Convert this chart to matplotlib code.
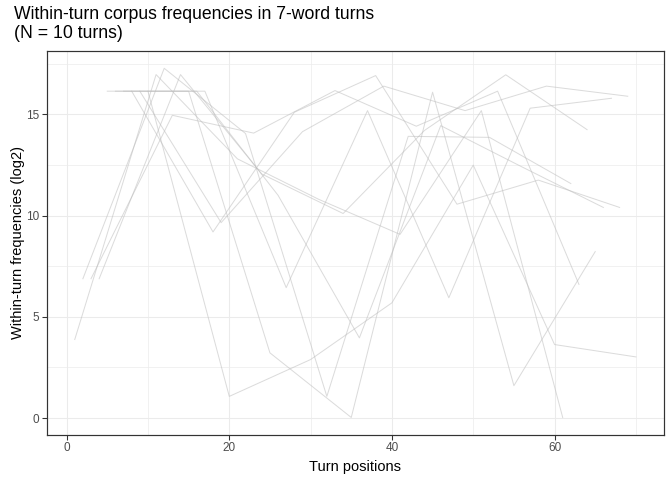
import matplotlib
matplotlib.use("Agg")
import matplotlib.pyplot as plt
from matplotlib.ticker import MultipleLocator

plt.rcParams['font.family'] = ['Liberation Sans', 'DejaVu Sans']

# turn positions and log2 corpus frequencies, one pair per turn
pos01 = [1, 11, 21, 31, 41, 51, 61]
freq01 = [3.88, 16.96, 12.8, 10.8, 9.07, 15.18, 0.03]
pos02 = [2, 12, 22, 32, 42, 52, 62]
freq02 = [6.88, 17.27, 14.05, 1.07, 13.91, 13.86, 11.58]
pos03 = [3, 13, 23, 33, 43, 53, 63]
freq03 = [6.88, 14.95, 14.07, 16.17, 14.41, 16.14, 6.6]
pos04 = [4, 14, 24, 34, 44, 54, 64]
freq04 = [6.88, 16.96, 12.05, 10.1, 14.2, 16.95, 14.24]
pos05 = [5, 15, 25, 35, 45, 55, 65]
freq05 = [16.14, 16.14, 3.22, 0.03, 16.09, 1.6, 8.22]
pos06 = [6, 16, 26, 36, 46, 56, 66]
freq06 = [16.14, 16.14, 11.0, 3.96, 14.44, 12.4, 10.4]
pos07 = [7, 17, 27, 37, 47, 57, 67]
freq07 = [16.14, 16.14, 6.44, 15.18, 5.94, 15.3, 15.79]
pos08 = [8, 18, 28, 38, 48, 58, 68]
freq08 = [16.14, 9.19, 15.1, 16.91, 10.56, 11.75, 10.4]
pos09 = [9, 19, 29, 39, 49, 59, 69]
freq09 = [16.14, 9.65, 14.14, 16.39, 15.18, 16.39, 15.89]
pos10 = [10, 20, 30, 40, 50, 60, 70]
freq10 = [16.14, 1.07, 2.89, 5.69, 12.49, 3.63, 3.02]

turns = [(pos01, freq01), (pos02, freq02), (pos03, freq03), (pos04, freq04),
         (pos05, freq05), (pos06, freq06), (pos07, freq07), (pos08, freq08),
         (pos09, freq09), (pos10, freq10)]

fig = plt.figure(figsize=(7, 5), dpi=96)
ax = fig.add_axes([0.0695, 0.094, 0.9185, 0.80])

for x, y in turns:
    ax.plot(x, y, color='#bebebe', alpha=0.55, linewidth=0.75)

ax.set_xlim(-2.45, 73.45)
ax.set_ylim(-0.83, 18.13)
ax.xaxis.set_major_locator(MultipleLocator(20))
ax.xaxis.set_minor_locator(MultipleLocator(10))
ax.yaxis.set_major_locator(MultipleLocator(5))
ax.yaxis.set_minor_locator(MultipleLocator(2.5))
ax.grid(True, which='major', color='#ebebeb', linewidth=0.8)
ax.grid(True, which='minor', color='#ebebeb', linewidth=0.5)
ax.set_axisbelow(True)
ax.tick_params(which='major', length=3.5, width=0.8, color='#333333',
               labelcolor='#4d4d4d', labelsize=8.8, pad=2)
ax.tick_params(which='minor', length=0)
for s in ax.spines.values():
    s.set_color('#333333')
    s.set_linewidth(0.9)

ax.set_xlabel('Turn positions', fontsize=11, labelpad=4)
ax.set_ylabel('Within-turn frequencies (log2)', fontsize=11, labelpad=1)
fig.text(0.021, 0.987, 'Within-turn corpus frequencies in 7-word turns\n(N = 10 turns)',
         fontsize=13.2, ha='left', va='top', linespacing=1.12)

fig.savefig('out.png', dpi=96)
